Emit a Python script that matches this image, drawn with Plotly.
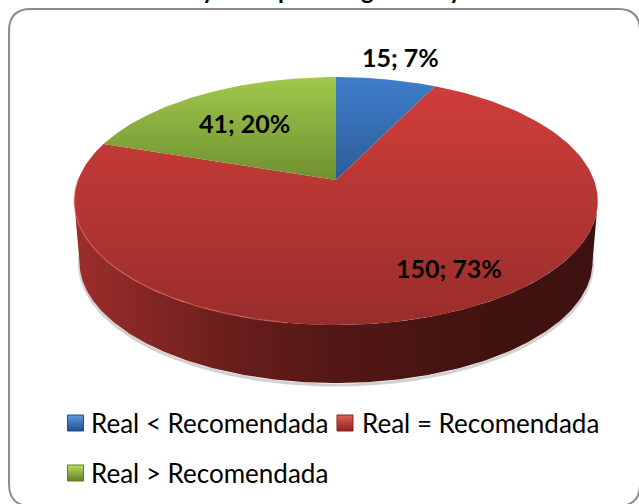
import numpy as np
import plotly.graph_objects as go

categories = ["Real < Recomendada", "Real = Recomendada", "Real > Recomendada"]
values = [15, 150, 41]
percent_labels = ["7%", "73%", "20%"]
title_fragments = ["y", "p", "g", "y"]

W, H = 639, 504
CX, CY = 336, 180
A, B, K = 120.4, 258.0, 0.1694
BOTTOM_CY, BOTTOM_S = 241.0, 0.98

top_scales = [
    [[0, "#3f7ecb"], [1, "#2c5c98"]],
    [[0, "#d03e3a"], [0.5, "#b63633"], [1, "#982d2b"]],
    [[0, "#a2c84c"], [1, "#6f9030"]],
]
top_ranges = [(77, 180), (77, 325), (77, 180)]
key_colors = [("#5c9be0", "#1f4e8c"), ("#e2605a", "#8a2220"), ("#bcdc5c", "#5f8024")]
label_pos = [(400, 57), (449, 268), (244, 123)]
key_pos = [(75.5, 423), (345, 423), (75.5, 473)]
text_pos = [(89, 423), (360, 423), (89, 473)]


def project(t, cy=CY, s=1.0):
    u, v = np.sin(t), np.cos(t)
    w = 1 + K * v
    return CX + s * B * u / w, cy - s * A * v / w


fig = go.Figure()

# soft shadow below the disc
ts = np.linspace(np.pi * 0.45, np.pi * 1.55, 200)
sx, sy = project(ts, BOTTOM_CY + 2, BOTTOM_S)
fig.add_trace(go.Scatter(x=sx, y=sy, mode="lines", line=dict(color="rgba(90,90,90,0.28)", width=3),
                         hoverinfo="skip", showlegend=False))

# side wall
arc = np.linspace(np.pi / 2 + np.arcsin(K), 3 * np.pi / 2 - np.arcsin(K), 240)
x1, y1 = project(arc)
x2, y2 = project(arc[::-1], BOTTOM_CY, BOTTOM_S)
fig.add_trace(go.Scatter(
    x=np.r_[x1, x2], y=np.r_[y1, y2], mode="lines", fill="toself", line=dict(width=0),
    fillgradient=dict(type="horizontal", start=73, stop=597,
                      colorscale=[[0, "#9c2e2c"], [0.3, "#6a1e1c"], [0.5, "#531715"], [0.8, "#40120f"], [1, "#3c110f"]]),
    hoverinfo="skip", showlegend=False))

# top face, clockwise from twelve o'clock
total = sum(values)
start = 0.0
for name, val, scale, rng in zip(categories, values, top_scales, top_ranges):
    end = start + 2 * np.pi * val / total
    t = np.linspace(start, end, 200)
    ax, ay = project(t)
    fig.add_trace(go.Scatter(
        x=np.r_[CX, ax, CX], y=np.r_[CY, ay, CY], mode="lines", fill="toself", line=dict(width=0),
        fillgradient=dict(type="vertical", start=rng[0], stop=rng[1], colorscale=scale),
        name=name, hoverinfo="skip", showlegend=False))
    start = end

# rim highlight
rim = np.linspace(np.pi * 1.05, np.pi * 1.5, 120)
rx, ry = project(rim)
fig.add_trace(go.Scatter(x=rx, y=ry, mode="lines", line=dict(color="rgba(226,110,100,0.45)", width=1.5),
                         hoverinfo="skip", showlegend=False))

# legend keys
for name, (kx, ky), (c1, c2) in zip(categories, key_pos, key_colors):
    fig.add_trace(go.Scatter(
        x=[kx], y=[ky], mode="markers", name=name, hoverinfo="skip", showlegend=False,
        marker=dict(symbol="square", size=16, color=c1, gradient=dict(type="vertical", color=c2),
                    line=dict(color=c2, width=1))))

anns = []
for val, pct, (lx, ly) in zip(values, percent_labels, label_pos):
    anns.append(dict(x=lx, y=ly, text=f"<b>{val}; {pct}</b>", showarrow=False, xanchor="center", yanchor="middle",
                     font=dict(family="Lato", size=25, color="#000000")))
for name, (tx, ty) in zip(categories, text_pos):
    anns.append(dict(x=tx, y=ty, text=name.replace("<", "&lt;").replace(">", "&gt;"), showarrow=False,
                     xanchor="left", yanchor="middle", font=dict(family="Lato", size=26, color="#000000")))
# chart title: cropped by the top edge of the picture, only descenders are legible
for ch, fx in zip(title_fragments, [208, 285, 367, 455]):
    anns.append(dict(x=fx, xref="x", y=1 + 11 / H, yref="paper", text=f"<b>{ch}</b>", showarrow=False,
                     xanchor="center", yanchor="middle", font=dict(family="Lato", size=24, color="#000000")))

fig.update_layout(
    width=W, height=H, margin=dict(l=0, r=0, t=0, b=0), paper_bgcolor="#ffffff", plot_bgcolor="#ffffff",
    xaxis=dict(range=[0, W], visible=False, fixedrange=True),
    yaxis=dict(range=[H, 0], visible=False, fixedrange=True),
    showlegend=False, annotations=anns,
    shapes=[dict(type="path", xref="x", yref="y", layer="below",
                 path="M 31 9 L 618 9 Q 640 9 640 31 L 640 484 Q 640 506 618 506 L 31 506 Q 9 506 9 484 L 9 31 Q 9 9 31 9 Z",
                 line=dict(color="#8c8c8c", width=2), fillcolor="#ffffff")],
)
fig.write_html("out.html", config={"displayModeBar": False},
               post_script="document.body.style.margin='0';document.body.style.overflow='hidden';")
